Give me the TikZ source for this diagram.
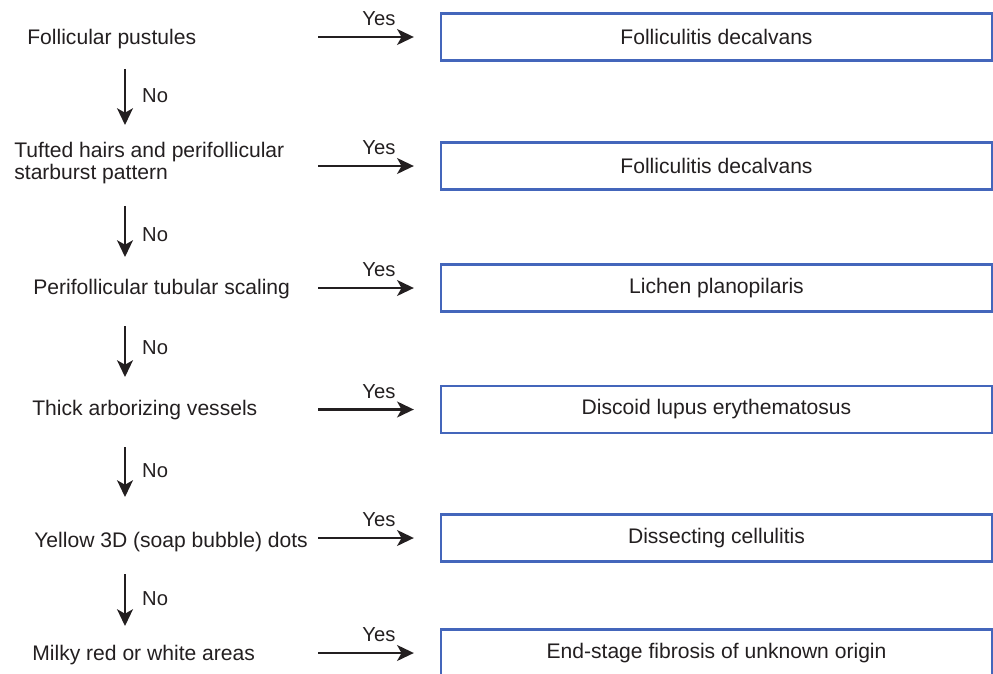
\documentclass[tikz,border=0pt]{standalone}
\usepackage{fontspec}
\setmainfont{Liberation Sans}
\usetikzlibrary{arrows.meta}
\definecolor{boxblue}{RGB}{68,102,187}
\definecolor{ink}{RGB}{35,31,32}

\begin{document}
\begin{tikzpicture}[x=0.02cm, y=-0.02cm,
  every node/.style={font=\fontsize{12}{12.8}\selectfont, inner sep=0pt, text=ink},
  crit/.style={anchor=west, align=left},
  diag/.style={draw=boxblue, line width=1.4pt, minimum width=11.02cm, minimum height=0.94cm},
  flow/.style={draw=ink, line width=1.4pt, -{Stealth[length=9.5pt,width=9pt,inset=2.5pt]}},
  lbl/.style={font=\fontsize{11.5}{13}\selectfont}]
\useasboundingbox (0,0) rectangle (993,673);
\clip (0,0) rectangle (993,673);
\coordinate (col) at (125,0);
\coordinate (yescol) at (318,0);
% findings, top to bottom
\node[crit] (q1) at (27,39) {Follicular pustules};
\node[crit] (q2) at (14,163) {Tufted hairs and perifollicular\\starburst pattern};
\node[crit] (q3) at (33,289.5) {Perifollicular tubular scaling};
\node[crit] (q4) at (32,410) {Thick arborizing vessels};
\node[crit] (q5) at (34,542) {Yellow 3D (soap bubble) dots};
\node[crit] (q6) at (32,655) {Milky red or white areas};
% diagnoses
\node[diag] (r1) at (716.5,37) {Folliculitis decalvans};
\node[diag] (r2) at (716.5,166) {Folliculitis decalvans};
\node[diag] (r3) at (716.5,288) {Lichen planopilaris};
\node[diag] (r4) at (716.5,409.5) {Discoid lupus erythematosus};
\node[diag] (r5) at (716.5,538) {Dissecting cellulitis};
\node[diag] (r6) at (716.5,653) {End-stage fibrosis of unknown origin};
% yes branches
\draw[flow, shorten >=5.2mm] (yescol |- r1.west) -- (r1.west) node[lbl, midway, above=2mm] {Yes};
\draw[flow, shorten >=5.2mm] (yescol |- r2.west) -- (r2.west) node[lbl, midway, above=2mm] {Yes};
\draw[flow, shorten >=5.2mm] (yescol |- r3.west) -- (r3.west) node[lbl, midway, above=2mm] {Yes};
\draw[flow, shorten >=5.2mm] (yescol |- r4.west) -- (r4.west) node[lbl, midway, above=2mm] {Yes};
\draw[flow, shorten >=5.2mm] (yescol |- r5.west) -- (r5.west) node[lbl, midway, above=2mm] {Yes};
\draw[flow, shorten >=5.2mm] (yescol |- r6.west) -- (r6.west) node[lbl, midway, above=2mm] {Yes};
% no branches
\draw[flow, shorten <=6.0mm, shorten >=7.6mm] (q1.center -| col) -- (q2.center -| col) node[lbl, pos=.46, right=3.2mm] {No};
\draw[flow, shorten <=8.6mm, shorten >=6.5mm] (q2.center -| col) -- (q3.center -| col) node[lbl, pos=.57, right=3.2mm] {No};
\draw[flow, shorten <=7.3mm, shorten >=6.6mm] (q3.center -| col) -- (q4.center -| col) node[lbl, pos=.48, right=3.2mm] {No};
\draw[flow, shorten <=7.4mm, shorten >=9.0mm] (q4.center -| col) -- (q5.center -| col) node[lbl, pos=.46, right=3.2mm] {No};
\draw[flow, shorten <=6.4mm, shorten >=5.8mm] (q5.center -| col) -- (q6.center -| col) node[lbl, midway, right=3.2mm] {No};
\end{tikzpicture}
\end{document}
